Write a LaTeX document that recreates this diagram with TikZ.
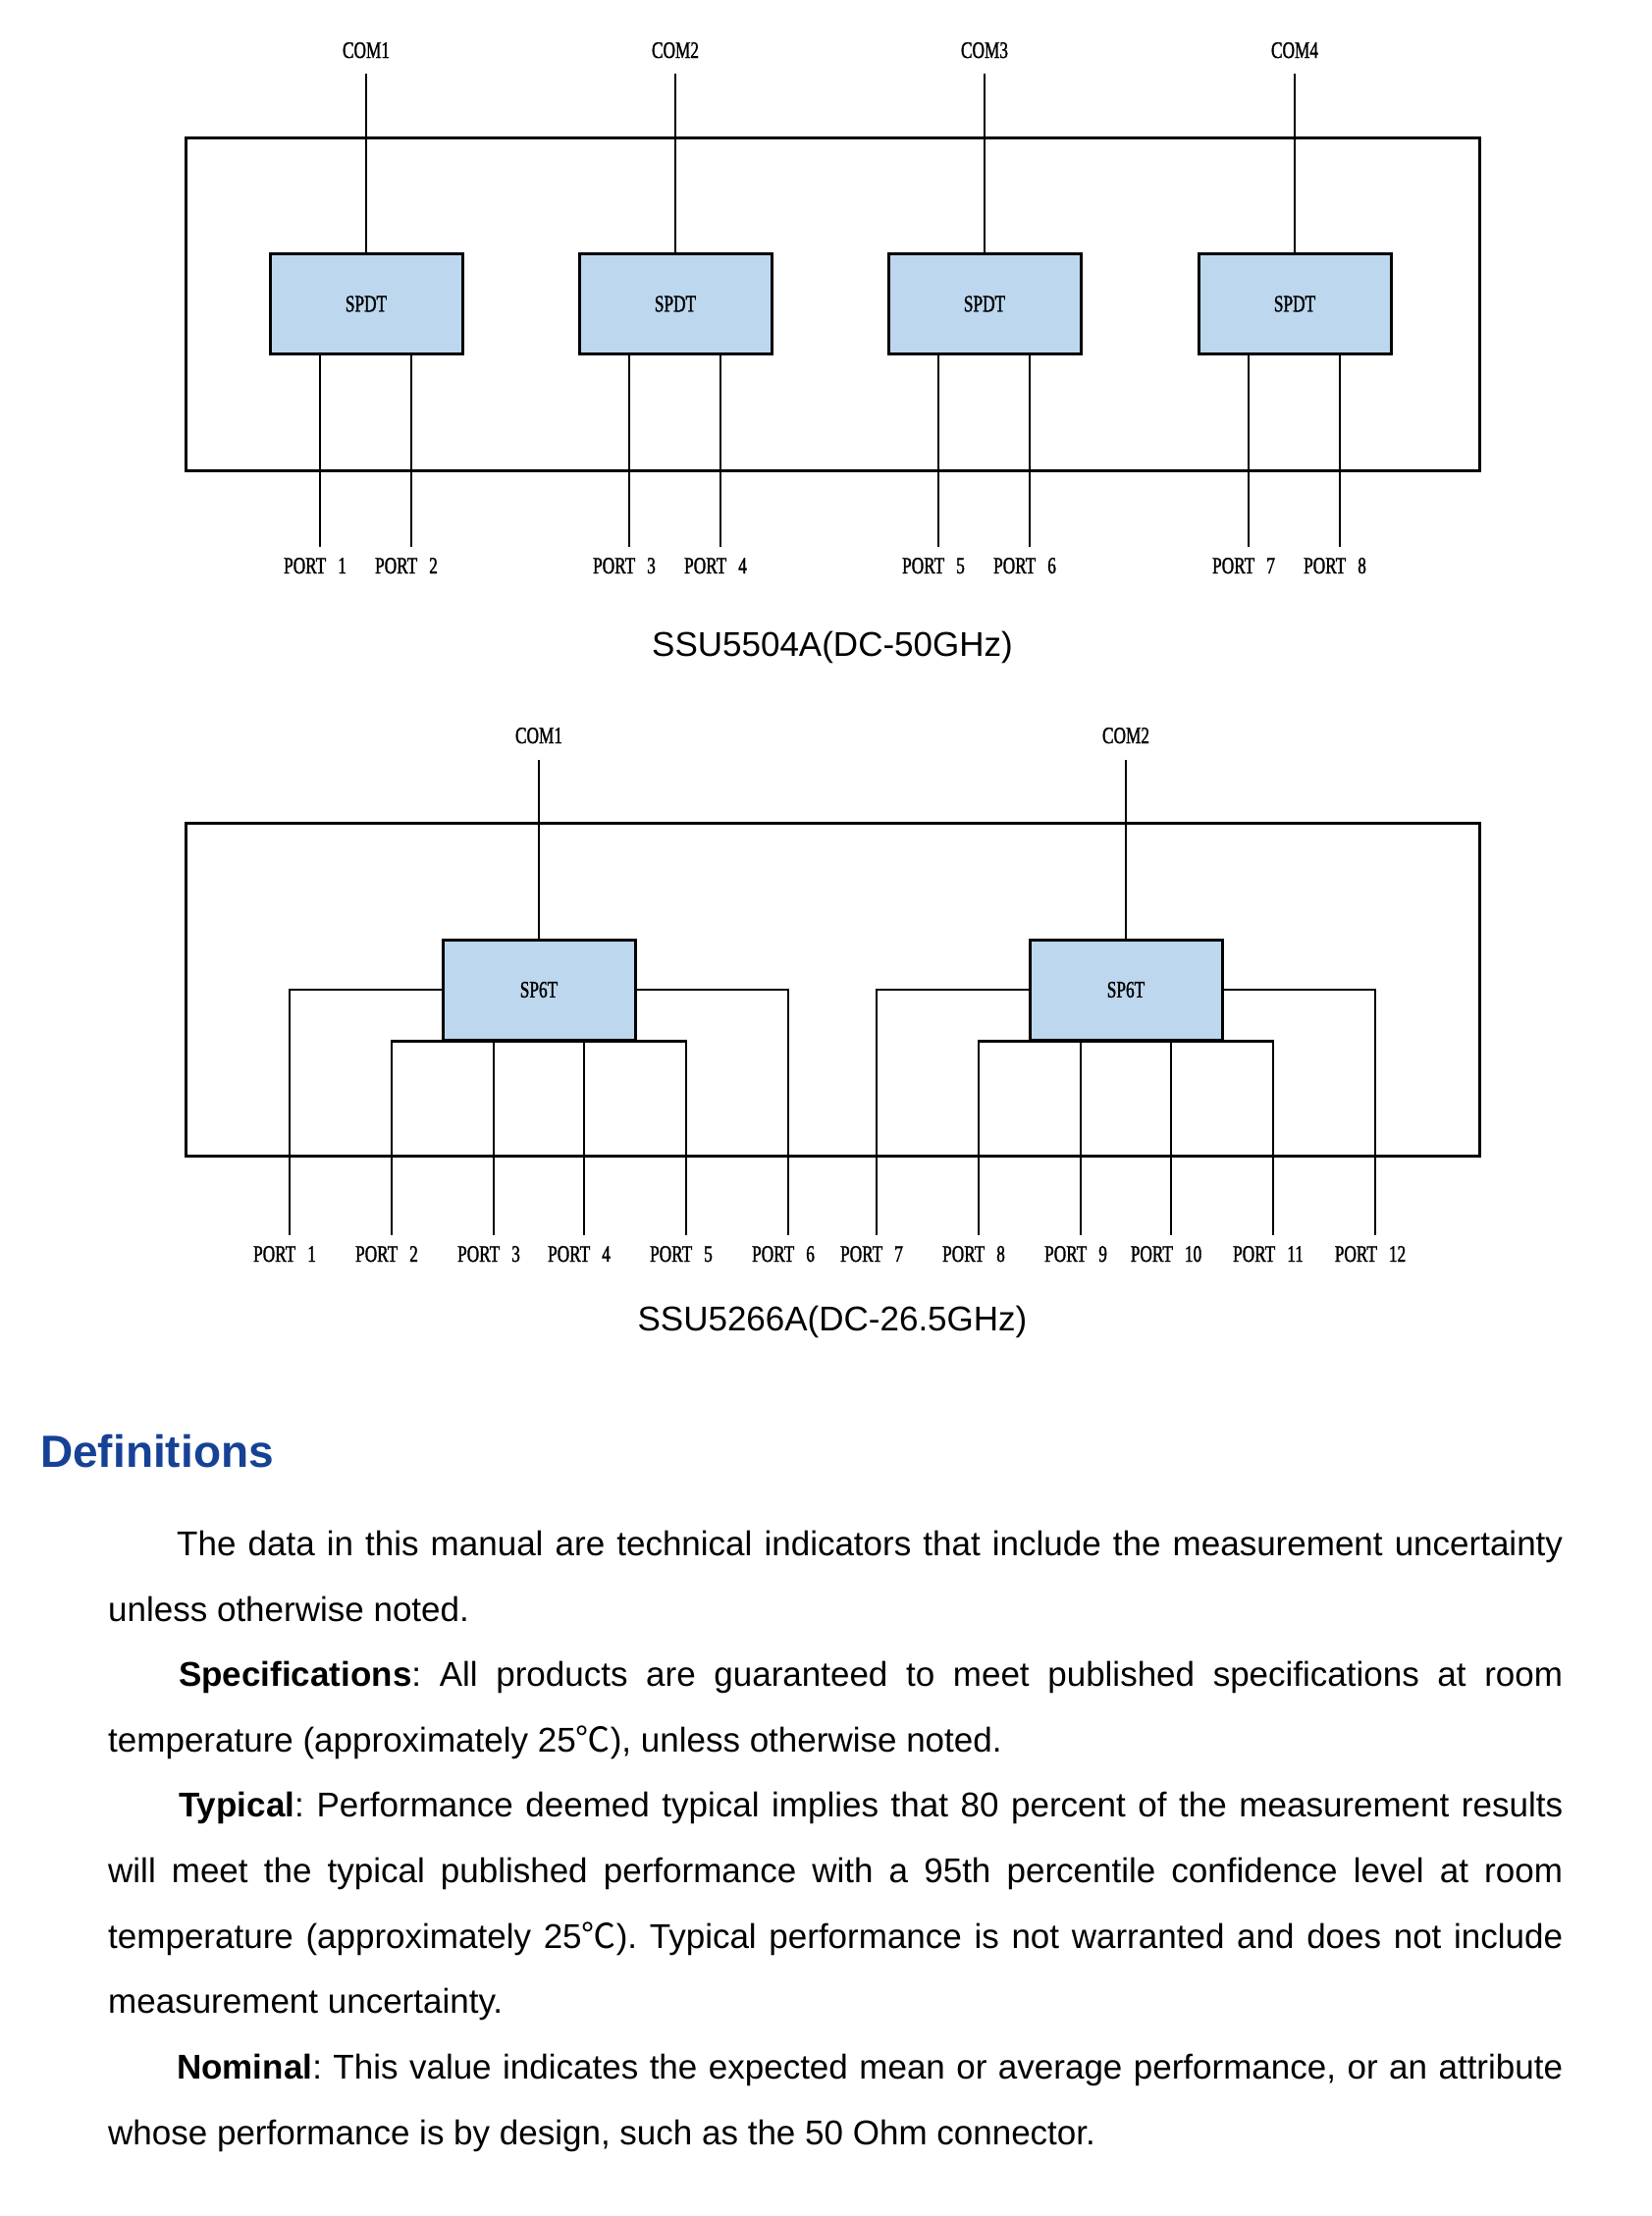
\documentclass[tikz,border=0pt]{standalone}
\usepackage{fontspec}
\setmainfont{Liberation Sans}
\newfontfamily\lblfont[FakeStretch=0.72,FakeBold=1.3]{Liberation Serif}
\newfontfamily\cjkfont{Noto Sans CJK SC}
\definecolor{boxblue}{RGB}{189,215,238}
\definecolor{headblue}{RGB}{22,66,150}
\newcommand{\degC}{{\cjkfont ℃}}
\frenchspacing
\begin{document}
\frenchspacing
\begin{tikzpicture}[x=1pt,y=-1pt,
  frame/.style={draw, line width=3pt, inner sep=0pt, minimum width=1318pt, minimum height=339pt},
  swbox/.style={draw, line width=3pt, fill=boxblue, inner sep=0pt, minimum width=196pt, minimum height=102pt, font=\lblfont\fontsize{24}{24}\selectfont},
  wire/.style={line width=2.7pt},
  lbl/.style={inner sep=0pt, anchor=base, font=\lblfont\fontsize{24}{24}\selectfont},
  captxt/.style={inner sep=0pt, anchor=base, font=\fontsize{35}{42}\selectfont},
  body/.style={inner sep=0pt, anchor=base west, font=\fontsize{35}{42}\selectfont\frenchspacing}]
\path[use as bounding box, fill=white] (0,0) rectangle (1682,2257);

% ---------- SSU5504A ----------
\node[frame] (f1) at (848,309.5) {};
\foreach \i/\c/\pa/\pb in {1/373/1/2, 2/688/3/4, 3/1003/5/6, 4/1319/7/8}{
  \node[lbl] (com\i) at (\c,59) {COM\i};
  \coordinate (ct\i) at (\c,75);
  \node[swbox] (s\i) at (\c,309.5) {SPDT};
  \coordinate (p\pa) at (\c-47,557);
  \coordinate (p\pb) at (\c+46,557);
  \draw[wire] (ct\i) -- (s\i.north);
  \draw[wire] (s\i.south -| p\pa) -- (p\pa);
  \draw[wire] (s\i.south -| p\pb) -- (p\pb);
  \node[lbl] (lp\pa) at (\c-52,584) {PORT\enspace\pa};
  \node[lbl] (lp\pb) at (\c+41,584) {PORT\enspace\pb};
}
\node[captxt] (cap1) at (848,668) {SSU5504A(DC-50GHz)};

% ---------- SSU5266A ----------
\node[frame] (f2) at (848,1008) {};
\foreach \j/\c in {1/549, 2/1147}{
  \node[lbl] (cm\j) at (\c,757) {COM\j};
  \coordinate (cmt\j) at (\c,774);
  \node[swbox] (b\j) at (\c,1008) {SP6T};
  \draw[wire] (cmt\j) -- (b\j.north);
  \foreach \k/\o in {1/-254, 2/-150, 3/-46, 4/46, 5/150, 6/254}{
    \pgfmathtruncatemacro\n{6*(\j-1)+\k}
    \coordinate (q\n) at (\c+\o,1258);
    \node[lbl] (lq\n) at (\c+\o-5,1285) {PORT\enspace\n};
  }
  \pgfmathtruncatemacro\na{6*(\j-1)+1}
  \pgfmathtruncatemacro\nb{6*(\j-1)+2}
  \pgfmathtruncatemacro\nc{6*(\j-1)+3}
  \pgfmathtruncatemacro\nd{6*(\j-1)+4}
  \pgfmathtruncatemacro\ne{6*(\j-1)+5}
  \pgfmathtruncatemacro\nf{6*(\j-1)+6}
  \draw[wire] (b\j.west) -| (q\na);
  \draw[wire] (b\j.east) -| (q\nf);
  \draw[wire] (q\nb) -- (q\nb |- b\j.south) -- (q\ne |- b\j.south) -- (q\ne);
  \draw[wire] (q\nc |- b\j.south) -- (q\nc);
  \draw[wire] (q\nd |- b\j.south) -- (q\nd);
}
\node[captxt] (cap2) at (848,1355) {SSU5266A(DC-26.5GHz)};

% ---------- Definitions ----------
\node[inner sep=0pt, anchor=base west, font=\bfseries\fontsize{46}{52}\selectfont, text=headblue] (hd) at (41,1494) {Definitions};
\node[body] (t1) at (180,1584) {\makebox[1412pt][s]{The data in this manual are technical indicators that include the measurement uncertainty}};
\node[body] (t2) at (110,1651) {unless otherwise noted.};
\node[body] (t3) at (182,1717) {\makebox[1410pt][s]{\textbf{Specifications}: All products are guaranteed to meet published specifications at room}};
\node[body] (t4) at (110,1784) {temperature (approximately 25\degC), unless otherwise noted.};
\node[body] (t5) at (182,1850) {\makebox[1410pt][s]{\textbf{Typical}: Performance deemed typical implies that 80 percent of the measurement results}};
\node[body] (t6) at (110,1917) {\makebox[1482pt][s]{will meet the typical published performance with a 95th percentile confidence level at room}};
\node[body] (t7) at (110,1984) {\makebox[1482pt][s]{temperature (approximately 25\degC). Typical performance is not warranted and does not include}};
\node[body] (t8) at (110,2050) {measurement uncertainty.};
\node[body] (t9) at (180,2117) {\makebox[1412pt][s]{\textbf{Nominal}: This value indicates the expected mean or average performance, or an attribute}};
\node[body] (t10) at (110,2184) {whose performance is by design, such as the 50 Ohm connector.};
\end{tikzpicture}
\end{document}
